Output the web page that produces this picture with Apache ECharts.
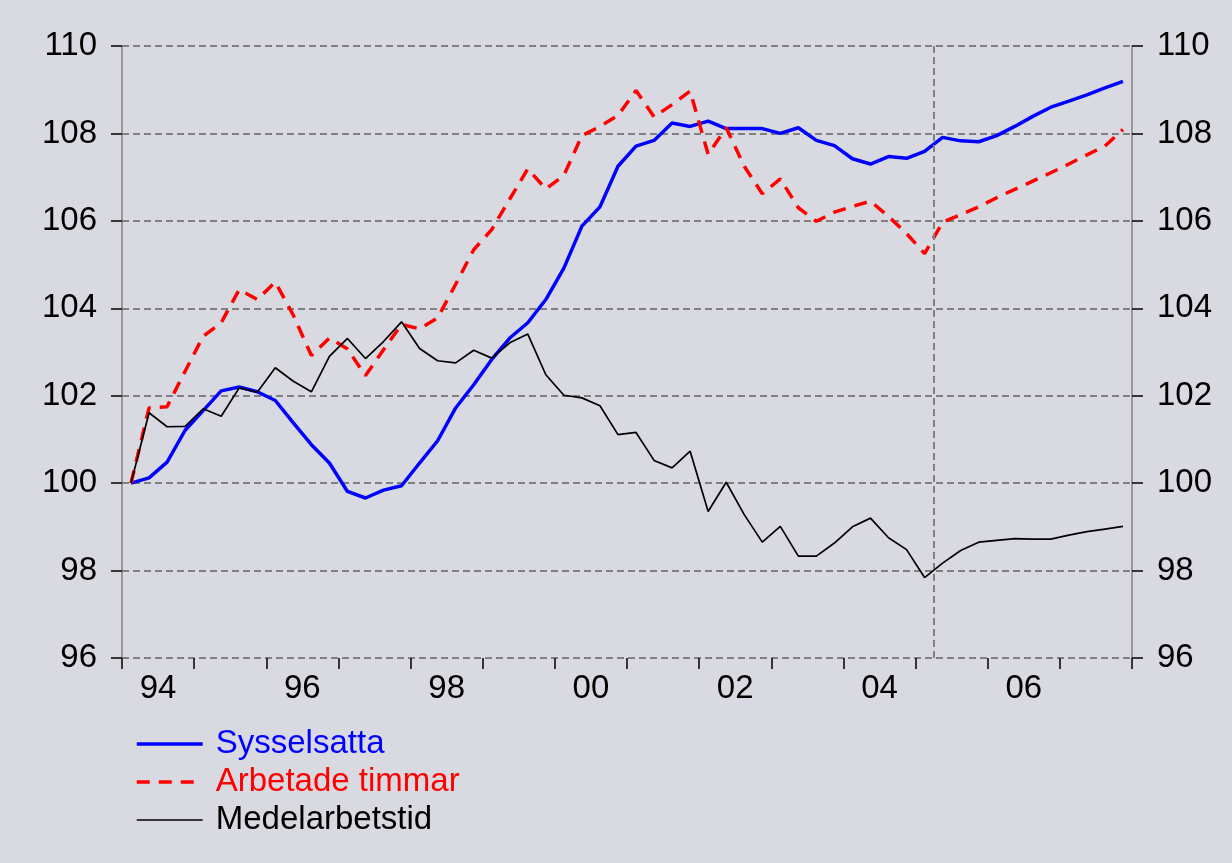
<!DOCTYPE html>
<html>
<head>
<meta charset="utf-8">
<script src="https://cdn.jsdelivr.net/npm/echarts@6/dist/echarts.min.js"></script>
<style>
html,body{margin:0;padding:0;background:#d9dae1;}
#c{width:1232px;height:863px;}
</style>
</head>
<body>
<div id="c"></div>
<script>
// Quarterly data 1994Q1 .. 2007Q4 (index, 1994Q1 = 100)
const years = ['94','95','96','97','98','99','00','01','02','03','04','05','06','07'];
const yTicks = [96, 98, 100, 102, 104, 106, 108, 110];
const sysselsatta = [
  100.00, 100.12, 100.48, 101.21, 101.66, 102.11, 102.20, 102.09,
  101.89, 101.38, 100.88, 100.46, 99.81, 99.66, 99.84, 99.94,
  100.46, 100.97, 101.72, 102.25, 102.83, 103.32, 103.67, 104.20,
  104.92, 105.88, 106.32, 107.25, 107.71, 107.84, 108.24, 108.16,
  108.28, 108.11, 108.11, 108.11, 108.00, 108.13, 107.84, 107.72,
  107.42, 107.30, 107.47, 107.43, 107.59, 107.91, 107.83, 107.81,
  107.95, 108.16, 108.39, 108.60, 108.74, 108.88, 109.04, 109.19
];
const arbetadeTimmar = [
  100.00, 101.72, 101.75, 102.56, 103.36, 103.67, 104.43, 104.20,
  104.60, 103.84, 102.92, 103.32, 103.07, 102.46, 103.05, 103.63,
  103.53, 103.78, 104.55, 105.34, 105.80, 106.50, 107.19, 106.73,
  107.04, 107.95, 108.16, 108.41, 108.98, 108.38, 108.66, 108.97,
  107.52, 108.13, 107.25, 106.62, 106.96, 106.30, 105.99, 106.20,
  106.33, 106.45, 106.10, 105.71, 105.25, 105.97, 106.14, 106.32,
  106.53, 106.72, 106.91, 107.10, 107.30, 107.51, 107.71, 108.09
];
const medelarbetstid = [
  100.00, 101.61, 101.29, 101.30, 101.70, 101.53, 102.18, 102.08,
  102.64, 102.33, 102.09, 102.90, 103.31, 102.85, 103.24, 103.69,
  103.08, 102.80, 102.75, 103.04, 102.86, 103.21, 103.41, 102.48,
  102.01, 101.95, 101.77, 101.11, 101.16, 100.52, 100.35, 100.73,
  99.35, 100.02, 99.28, 98.65, 99.01, 98.33, 98.33, 98.63,
  99.00, 99.20, 98.75, 98.48, 97.84, 98.17, 98.46, 98.65,
  98.69, 98.73, 98.72, 98.72, 98.81, 98.89, 98.95, 99.01
];
// forecast boundary: start of 2005Q2, in quarters since 1994Q1
const forecastStartQuarter = 45;
const seriesNames = ['Sysselsatta', 'Arbetade timmar', 'Medelarbetstid'];
const seriesColors = ['#0000ff', '#ff0000', '#000000'];
const seriesWidths = [3.5, 3.5, 1.7];
const seriesDash = ['solid', [13, 9], 'solid'];

const toPts = arr => arr.map((v, i) => [i + 0.5, v]);
const FONT = '"Liberation Sans", Arial, sans-serif';

const yAxisCommon = {
  type: 'value', min: yTicks[0], max: yTicks[yTicks.length - 1], interval: 2,
  axisLine: { show: true, lineStyle: { color: '#808080', width: 1.5 } },
  axisTick: { show: true, inside: false, length: 11, lineStyle: { color: '#000', width: 1.5 } },
  axisLabel: { color: '#000', fontSize: 33, fontFamily: FONT, margin: 25 }
};

const chart = echarts.init(document.getElementById('c'), null, { renderer: 'canvas' });
chart.setOption({
  backgroundColor: '#d9dae1',
  animation: false,
  grid: { left: 122, right: 100, top: 46, bottom: 205, containLabel: false },
  xAxis: [
    { type: 'value', min: 0, max: years.length * 4, show: false,
      splitLine: { show: false } },
    { type: 'category', data: years, boundaryGap: true, position: 'bottom',
      axisLine: { show: false },
      axisTick: { show: true, interval: 0, length: 11, lineStyle: { color: '#000', width: 1.5 } },
      axisLabel: { interval: 1, color: '#000', fontSize: 33, fontFamily: FONT, margin: 14 },
      splitLine: { show: false } }
  ],
  yAxis: [
    Object.assign({}, yAxisCommon, { position: 'left',
      splitLine: { show: true, lineStyle: { color: '#808080', width: 2, type: [7, 4] } } }),
    Object.assign({}, yAxisCommon, { position: 'right', splitLine: { show: false } })
  ],
  legend: {
    orient: 'vertical', left: 135, top: 725, padding: 0,
    itemWidth: 66, itemHeight: 14, itemGap: 0,
    itemStyle: { opacity: 0 },
    textStyle: { fontSize: 33, fontFamily: FONT, lineHeight: 38, padding: [0, 0, 0, 8] },
    data: seriesNames.map((n, i) => ({
      name: n,
      textStyle: { color: seriesColors[i] },
      lineStyle: { color: seriesColors[i], width: seriesWidths[i], type: seriesDash[i] }
    }))
  },
  series: [
    { name: seriesNames[0], type: 'line', data: toPts(sysselsatta), symbol: 'none',
      xAxisIndex: 0, yAxisIndex: 0, z: 3,
      lineStyle: { color: seriesColors[0], width: seriesWidths[0], type: seriesDash[0] },
      itemStyle: { color: seriesColors[0] } },
    { name: seriesNames[1], type: 'line', data: toPts(arbetadeTimmar), symbol: 'none',
      xAxisIndex: 0, yAxisIndex: 0, z: 4,
      lineStyle: { color: seriesColors[1], width: seriesWidths[1], type: seriesDash[1] },
      itemStyle: { color: seriesColors[1] } },
    { name: seriesNames[2], type: 'line', data: toPts(medelarbetstid), symbol: 'none',
      xAxisIndex: 0, yAxisIndex: 0, z: 5,
      lineStyle: { color: seriesColors[2], width: seriesWidths[2], type: seriesDash[2] },
      itemStyle: { color: seriesColors[2] },
      markLine: { silent: true, symbol: 'none', label: { show: false },
        lineStyle: { color: '#808080', width: 2, type: [7, 4] },
        data: [{ xAxis: forecastStartQuarter }] } }
  ]
});
</script>
</body>
</html>
